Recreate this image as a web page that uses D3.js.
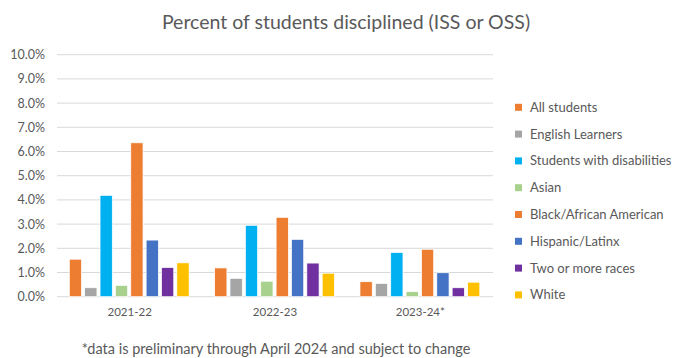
<!DOCTYPE html>
<html>
<head>
<meta charset="utf-8">
<script src="https://cdn.jsdelivr.net/npm/d3@7"></script>
<style>
  html, body { margin: 0; padding: 0; background: #fff; }
  svg { display: block; font-family: Lato, "Open Sans", sans-serif; }
</style>
</head>
<body>
<svg id="chart" width="676" height="358"></svg>
<script>
// School years on the x axis
const years = ["2021-22", "2022-23", "2023-24*"];

// Student groups (one bar per group in every year)
const groups = [
  "All students",
  "English Learners",
  "Students with disabilities",
  "Asian",
  "Black/African American",
  "Hispanic/Latinx",
  "Two or more races",
  "White"
];
const groupColors = ["#ED7D31", "#A5A5A5", "#00B0F0", "#A9D18E", "#ED7D31", "#4472C4", "#7030A0", "#FFC000"];

// Percent disciplined, per group, in year order
const allStudents      = [1.55, 1.19, 0.62];
const englishLearners  = [0.37, 0.76, 0.55];
const withDisabilities = [4.19, 2.95, 1.83];
const asian            = [0.47, 0.64, 0.21];
const black            = [6.36, 3.28, 1.96];
const hispanic         = [2.34, 2.37, 0.99];
const twoOrMore        = [1.21, 1.39, 0.37];
const white            = [1.40, 0.97, 0.60];
const seriesValues = [allStudents, englishLearners, withDisabilities, asian, black, hispanic, twoOrMore, white];

const yTicks = [0, 1, 2, 3, 4, 5, 6, 7, 8, 9, 10];

const svg = d3.select("#chart");
const textColor = "#595959";

const plot = { left: 57, right: 493, top: 54.7, bottom: 296.7 };

const x0 = d3.scaleBand().domain(years).range([plot.left, plot.right]).padding(0);
const x1 = d3.scaleBand().domain(groups)
  .range([12.3, x0.bandwidth() - 13.2])
  .paddingInner(0.2).paddingOuter(0);
const y = d3.scaleLinear().domain([0, 10]).range([plot.bottom, plot.top]);

// Title
svg.append("text")
  .attr("x", 346).attr("y", 29)
  .attr("text-anchor", "middle")
  .attr("font-size", 19.5)
  .attr("fill", textColor)
  .text("Percent of students disciplined (ISS or OSS)");

// Gridlines
svg.append("g")
  .selectAll("line")
  .data(yTicks)
  .join("line")
  .attr("x1", plot.left).attr("x2", plot.right)
  .attr("y1", d => y(d)).attr("y2", d => y(d))
  .attr("stroke", "#D9D9D9")
  .attr("stroke-width", 1);

// Y axis labels
const yAxis = d3.axisLeft(y).tickValues(yTicks).tickFormat(d => d.toFixed(1) + "%").tickSize(0).tickPadding(0);
const yg = svg.append("g").attr("transform", `translate(${plot.left - 12},0)`).call(yAxis);
yg.select(".domain").remove();
yg.selectAll("text").attr("font-size", 12.5).attr("fill", textColor).attr("font-family", "Lato, 'Open Sans', sans-serif");

// X axis labels
const xAxis = d3.axisBottom(x0).tickSize(0).tickPadding(0);
const xg = svg.append("g").attr("transform", `translate(0,${plot.bottom + 11})`).call(xAxis);
xg.select(".domain").remove();
xg.selectAll("text").attr("font-size", 11.5).attr("fill", textColor).attr("font-family", "Lato, 'Open Sans', sans-serif");

// Bars
const barData = [];
years.forEach((yr, i) => {
  groups.forEach((g, j) => {
    barData.push({ year: yr, group: g, value: seriesValues[j][i], color: groupColors[j] });
  });
});

svg.append("g")
  .selectAll("rect")
  .data(barData)
  .join("rect")
  .attr("x", d => x0(d.year) + x1(d.group))
  .attr("width", x1.bandwidth())
  .attr("y", d => y(d.value))
  .attr("height", d => y(0) - y(d.value))
  .attr("fill", d => d.color)
  .attr("stroke", "#fff")
  .attr("stroke-width", 0.75);

// Legend
const legend = svg.append("g").attr("transform", "translate(515,107.3)");
const legendRow = 26.8;
const items = legend.selectAll("g")
  .data(groups)
  .join("g")
  .attr("transform", (d, i) => `translate(0,${i * legendRow})`);
items.append("rect")
  .attr("x", 0).attr("y", -3.5)
  .attr("width", 7).attr("height", 7)
  .attr("fill", (d, i) => groupColors[i]);
items.append("text")
  .attr("x", 15).attr("y", 0)
  .attr("dy", "0.35em")
  .attr("font-size", 13)
  .attr("fill", textColor)
  .text(d => d);

// Footnote
svg.append("text")
  .attr("x", 276).attr("y", 354)
  .attr("text-anchor", "middle")
  .attr("font-size", 14.5)
  .attr("fill", textColor)
  .text("*data is preliminary through April 2024 and subject to change");
</script>
</body>
</html>
